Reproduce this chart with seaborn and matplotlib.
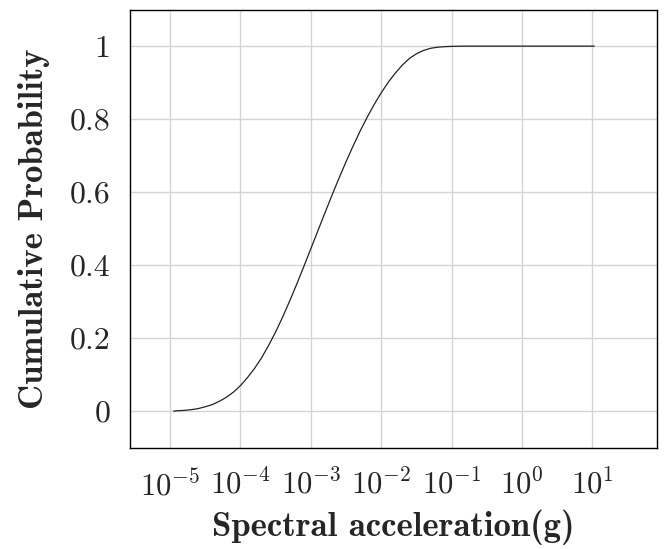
import matplotlib
matplotlib.use('Agg')
import matplotlib.pyplot as plt
import numpy as np
import pandas as pd
import seaborn as sns

# Values (x as log10 of g)
log_sa = [-4.95, -4.9, -4.8, -4.7, -4.6, -4.5, -4.4, -4.3, -4.2, -4.1,
          -4.0, -3.9, -3.8, -3.7, -3.6, -3.5, -3.4, -3.3, -3.2, -3.1,
          -3.0, -2.9, -2.8, -2.7, -2.6, -2.5, -2.4, -2.3, -2.2, -2.1,
          -2.0, -1.9, -1.8, -1.7, -1.6, -1.5, -1.4, -1.3, -1.2, -1.1,
          -1.0, -0.9, -0.8, 0.0, 1.03]
cum_prob = [0.000, 0.001, 0.002, 0.004, 0.007, 0.012, 0.018, 0.027, 0.038, 0.052,
            0.070, 0.092, 0.117, 0.146, 0.180, 0.217, 0.258, 0.302, 0.348, 0.396,
            0.445, 0.494, 0.543, 0.591, 0.638, 0.683, 0.726, 0.767, 0.805, 0.840,
            0.872, 0.901, 0.926, 0.948, 0.966, 0.979, 0.988, 0.994, 0.997, 0.9985,
            0.9993, 0.9998, 1.000, 1.000, 1.000]
y_ticks = [0, 0.2, 0.4, 0.6, 0.8, 1]
y_tick_labels = ['0', '0.2', '0.4', '0.6', '0.8', '1']
x_ticks = [1e-5, 1e-4, 1e-3, 1e-2, 1e-1, 1e0, 1e1]

df = pd.DataFrame({'sa': np.power(10.0, log_sa), 'p': cum_prob})

sns.set_style('white')
plt.rcParams['font.family'] = ['cmr10', 'DejaVu Serif']
plt.rcParams['mathtext.fontset'] = 'cm'
plt.rcParams['axes.formatter.use_mathtext'] = True

fig = plt.figure(figsize=(6.65, 5.49), dpi=100)
ax = fig.add_axes([130 / 665, 1 - 448 / 549, 527 / 665, 438 / 549])

sns.lineplot(data=df, x='sa', y='p', ax=ax, color='#222222', linewidth=0.9,
             sort=False)

ax.set_xscale('log')
ax.set_xlim(10 ** -5.57, 10 ** 1.92)
ax.set_ylim(-0.101, 1.099)
ax.set_xticks(x_ticks)
ax.xaxis.set_minor_locator(matplotlib.ticker.NullLocator())
ax.set_yticks(y_ticks)
ax.set_yticklabels(y_tick_labels)

ax.grid(True, color='#d4d4d4', linewidth=1.0)
ax.set_axisbelow(True)
ax.tick_params(axis='both', direction='out', length=9, width=1.0,
               color='#c8c8c8', labelsize=23, pad=5)
ax.tick_params(axis='x', labelsize=22, pad=6)
for s in ax.spines.values():
    s.set_color('black')
    s.set_linewidth(1.0)

ax.set_xlabel('Spectral acceleration(g)', fontfamily='cmb10', fontsize=25,
              labelpad=6)
ax.set_ylabel('Cumulative Probability', fontfamily='cmb10', fontsize=25,
              labelpad=14)

fig.savefig('out.png', dpi=100)
